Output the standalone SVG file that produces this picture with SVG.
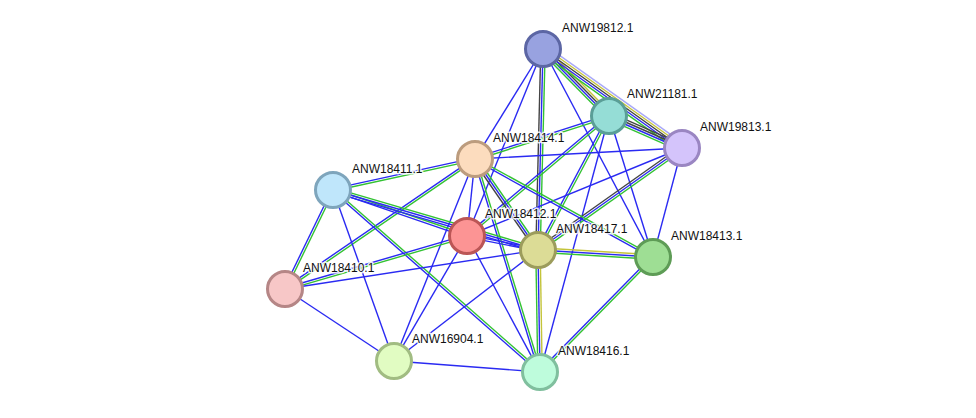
<svg xmlns="http://www.w3.org/2000/svg" width="976" height="418" viewBox="0 0 976 418">
<style>
line{stroke-width:1.4;fill:none}
.b{stroke:#2a2af2}
.g{stroke:#33c233}
.k{stroke:#444444}
.y{stroke:#c4c43a}
.l{stroke:#a8a8f8}
circle{stroke-width:3}
text{font-family:"Liberation Sans",Arial,sans-serif;font-size:12px;fill:#111;stroke:#ffffff;stroke-width:3;stroke-opacity:0.85;paint-order:stroke;stroke-linejoin:round}
</style>
<rect width="976" height="418" fill="#ffffff"/>
<g id="connectors">
<g transform="translate(543 49) rotate(45.43)"><line class="y" x1="0" y1="-3.3" x2="94.05" y2="-3.3"/><line class="k" x1="0" y1="-1.1" x2="94.05" y2="-1.1"/><line class="b" x1="0" y1="1.1" x2="94.05" y2="1.1"/><line class="g" x1="0" y1="3.3" x2="94.05" y2="3.3"/></g>
<g transform="translate(543 49) rotate(35.46)"><line class="l" x1="0" y1="-4.4" x2="170.65" y2="-4.4"/><line class="y" x1="0" y1="-2.2" x2="170.65" y2="-2.2"/><line class="k" x1="0" y1="0" x2="170.65" y2="0"/><line class="b" x1="0" y1="2.2" x2="170.65" y2="2.2"/><line class="g" x1="0" y1="4.4" x2="170.65" y2="4.4"/></g>
<g transform="translate(609 116) rotate(23.67)"><line class="k" x1="0" y1="-3.3" x2="79.7" y2="-3.3"/><line class="k" x1="0" y1="-1.1" x2="79.7" y2="-1.1"/><line class="b" x1="0" y1="1.1" x2="79.7" y2="1.1"/><line class="g" x1="0" y1="3.3" x2="79.7" y2="3.3"/></g>
<g transform="translate(543 49) rotate(91.42)"><line class="g" x1="0" y1="-2.2" x2="201.06" y2="-2.2"/><line class="b" x1="0" y1="0" x2="201.06" y2="0"/><line class="k" x1="0" y1="2.2" x2="201.06" y2="2.2"/></g>
<g transform="translate(543 49) rotate(121.72)"><line class="b" x1="0" y1="0" x2="129.3" y2="0"/></g>
<g transform="translate(543 49) rotate(112.12)"><line class="b" x1="0" y1="0" x2="201.85" y2="0"/></g>
<g transform="translate(543 49) rotate(62.13)"><line class="b" x1="0" y1="0" x2="235.3" y2="0"/></g>
<g transform="translate(609 116) rotate(162.21)"><line class="g" x1="0" y1="-1.1" x2="140.7" y2="-1.1"/><line class="b" x1="0" y1="1.1" x2="140.7" y2="1.1"/></g>
<g transform="translate(609 116) rotate(139.8)"><line class="g" x1="0" y1="-1.1" x2="185.9" y2="-1.1"/><line class="b" x1="0" y1="1.1" x2="185.9" y2="1.1"/></g>
<g transform="translate(609 116) rotate(117.92)"><line class="g" x1="0" y1="-1.1" x2="151.6" y2="-1.1"/><line class="b" x1="0" y1="1.1" x2="151.6" y2="1.1"/></g>
<g transform="translate(609 116) rotate(105.08)"><line class="b" x1="0" y1="0" x2="265.1" y2="0"/></g>
<g transform="translate(609 116) rotate(72.67)"><line class="b" x1="0" y1="0" x2="147.7" y2="0"/></g>
<g transform="translate(682 148) rotate(176.96)"><line class="b" x1="0" y1="0" x2="207.3" y2="0"/></g>
<g transform="translate(682 148) rotate(157.74)"><line class="b" x1="0" y1="0" x2="232.3" y2="0"/></g>
<g transform="translate(682 148) rotate(144.69)"><line class="g" x1="0" y1="-2.2" x2="176.5" y2="-2.2"/><line class="b" x1="0" y1="0" x2="176.5" y2="0"/><line class="k" x1="0" y1="2.2" x2="176.5" y2="2.2"/></g>
<g transform="translate(682 148) rotate(104.9)"><line class="b" x1="0" y1="0" x2="112.8" y2="0"/></g>
<g transform="translate(475 159) rotate(167.69)"><line class="g" x1="0" y1="-1.1" x2="145.3" y2="-1.1"/><line class="b" x1="0" y1="1.1" x2="145.3" y2="1.1"/></g>
<g transform="translate(475 159) rotate(145.62)"><line class="g" x1="0" y1="-1.1" x2="230.2" y2="-1.1"/><line class="b" x1="0" y1="1.1" x2="230.2" y2="1.1"/></g>
<g transform="translate(475 159) rotate(95.93)"><line class="b" x1="0" y1="0" x2="77.4" y2="0"/></g>
<g transform="translate(475 159) rotate(55.3)"><line class="g" x1="0" y1="-2.2" x2="110.7" y2="-2.2"/><line class="b" x1="0" y1="0" x2="110.7" y2="0"/><line class="k" x1="0" y1="2.2" x2="110.7" y2="2.2"/></g>
<g transform="translate(475 159) rotate(28.84)"><line class="g" x1="0" y1="-1.1" x2="203.2" y2="-1.1"/><line class="b" x1="0" y1="1.1" x2="203.2" y2="1.1"/></g>
<g transform="translate(475 159) rotate(73.03)"><line class="g" x1="0" y1="-1.1" x2="222.7" y2="-1.1"/><line class="b" x1="0" y1="1.1" x2="222.7" y2="1.1"/></g>
<g transform="translate(475 159) rotate(111.85)"><line class="b" x1="0" y1="0" x2="217.6" y2="0"/></g>
<g transform="translate(333 190) rotate(18.95)"><line class="g" x1="0" y1="-1.1" x2="141.7" y2="-1.1"/><line class="b" x1="0" y1="1.1" x2="141.7" y2="1.1"/></g>
<g transform="translate(333 190) rotate(16.31)"><line class="g" x1="0" y1="-2.2" x2="213.6" y2="-2.2"/><line class="b" x1="0" y1="0" x2="213.6" y2="0"/><line class="b" x1="0" y1="2.2" x2="213.6" y2="2.2"/></g>
<g transform="translate(333 190) rotate(115.87)"><line class="g" x1="0" y1="-1.1" x2="110" y2="-1.1"/><line class="b" x1="0" y1="1.1" x2="110" y2="1.1"/></g>
<g transform="translate(333 190) rotate(70.37)"><line class="b" x1="0" y1="0" x2="181.6" y2="0"/></g>
<g transform="translate(333 190) rotate(41.32)"><line class="g" x1="0" y1="-1.1" x2="275.6" y2="-1.1"/><line class="b" x1="0" y1="1.1" x2="275.6" y2="1.1"/></g>
<g transform="translate(467 236) rotate(11.15)"><line class="b" x1="0" y1="-1.1" x2="72.4" y2="-1.1"/><line class="b" x1="0" y1="1.1" x2="72.4" y2="1.1"/></g>
<g transform="translate(467 236) rotate(163.76)"><line class="g" x1="0" y1="-1.1" x2="189.6" y2="-1.1"/><line class="b" x1="0" y1="1.1" x2="189.6" y2="1.1"/></g>
<g transform="translate(467 236) rotate(120.28)"><line class="b" x1="0" y1="0" x2="144.8" y2="0"/></g>
<g transform="translate(467 236) rotate(61.78)"><line class="b" x1="0" y1="0" x2="154.4" y2="0"/></g>
<g transform="translate(538 250) rotate(3.48)"><line class="y" x1="0" y1="-2.2" x2="115.2" y2="-2.2"/><line class="b" x1="0" y1="0" x2="115.2" y2="0"/><line class="g" x1="0" y1="2.2" x2="115.2" y2="2.2"/></g>
<g transform="translate(538 250) rotate(171.24)"><line class="b" x1="0" y1="0" x2="256" y2="0"/></g>
<g transform="translate(538 250) rotate(142.37)"><line class="b" x1="0" y1="0" x2="181.8" y2="0"/></g>
<g transform="translate(538 250) rotate(89.06)"><line class="g" x1="0" y1="2.2" x2="122" y2="2.2"/><line class="b" x1="0" y1="0" x2="122" y2="0"/><line class="y" x1="0" y1="-2.2" x2="122" y2="-2.2"/></g>
<g transform="translate(653 257) rotate(134.5)"><line class="g" x1="0" y1="-1.1" x2="161.2" y2="-1.1"/><line class="b" x1="0" y1="1.1" x2="161.2" y2="1.1"/></g>
<g transform="translate(285 289) rotate(33.45)"><line class="b" x1="0" y1="0" x2="130.6" y2="0"/></g>
<g transform="translate(394 361) rotate(4.31)"><line class="b" x1="0" y1="0" x2="146.4" y2="0"/></g>
</g>
<g id="ANW19812.1"><circle cx="543" cy="49" r="17.5" fill="#98a2e0" stroke="#5c66a4"/><text x="562" y="32">ANW19812.1</text></g>
<g id="ANW21181.1"><circle cx="609" cy="116" r="17.5" fill="#95ddd6" stroke="#5a9e97"/><text x="627" y="98">ANW21181.1</text></g>
<g id="ANW19813.1"><circle cx="682" cy="148" r="17.5" fill="#d4c4fb" stroke="#9a86c2"/><text x="700" y="131">ANW19813.1</text></g>
<g id="ANW18414.1"><circle cx="475" cy="159" r="17.5" fill="#fcdcbe" stroke="#bc9c7e"/><text x="493" y="142">ANW18414.1</text></g>
<g id="ANW18411.1"><circle cx="333" cy="190" r="17.5" fill="#bfe6fb" stroke="#7ea5bc"/><text x="352" y="173">ANW18411.1</text></g>
<g id="ANW18412.1"><circle cx="467" cy="236" r="17.5" fill="#fc9494" stroke="#bb5656"/><text x="485" y="218">ANW18412.1</text></g>
<g id="ANW18417.1"><circle cx="538" cy="250" r="17.5" fill="#dcdc96" stroke="#9c9c5c"/><text x="556" y="233">ANW18417.1</text></g>
<g id="ANW18413.1"><circle cx="653" cy="257" r="17.5" fill="#9ede94" stroke="#5e9c56"/><text x="671" y="240">ANW18413.1</text></g>
<g id="ANW18410.1"><circle cx="285" cy="289" r="17.5" fill="#f7c7c7" stroke="#b58686"/><text x="303" y="272">ANW18410.1</text></g>
<g id="ANW16904.1"><circle cx="394" cy="361" r="17.5" fill="#e1fcc2" stroke="#a1bc82"/><text x="412" y="343">ANW16904.1</text></g>
<g id="ANW18416.1"><circle cx="540" cy="372" r="17.5" fill="#befcdc" stroke="#80bf9e"/><text x="558" y="355">ANW18416.1</text></g>
</svg>
